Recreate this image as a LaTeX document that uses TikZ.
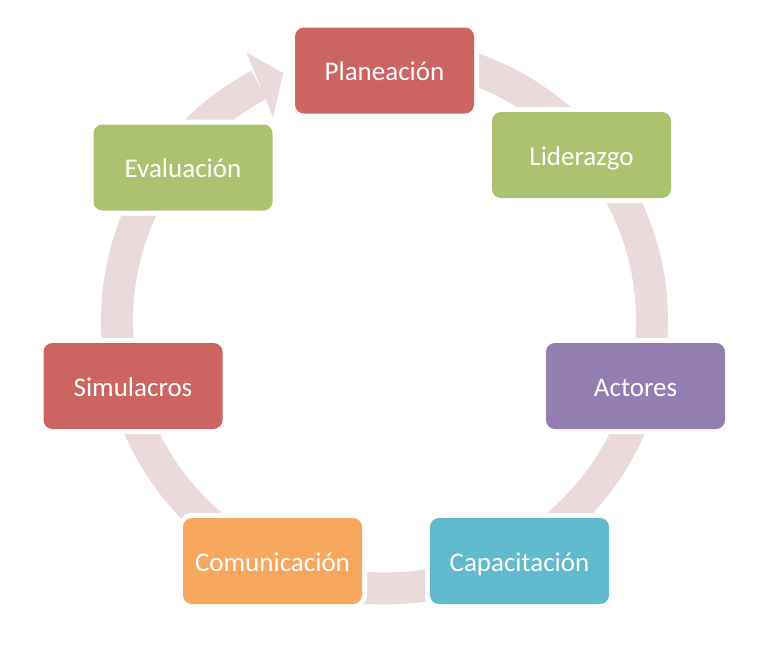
\documentclass[tikz,border=0pt]{standalone}
\usepackage{fontspec}
\setmainfont{Carlito}
\definecolor{ringc}{RGB}{234,218,219}
\definecolor{cred}{RGB}{204,101,97}
\definecolor{cgreen}{RGB}{172,194,112}
\definecolor{cpurple}{RGB}{147,125,177}
\definecolor{cteal}{RGB}{97,185,206}
\definecolor{corange}{RGB}{247,167,94}
\begin{document}
\begin{tikzpicture}[x=1pt,y=-1pt,
  box/.style={rounded corners=9pt, minimum width=179pt, minimum height=86pt,
    text=white, font=\fontsize{27}{31}\selectfont, inner sep=0pt,
    text height=20pt, text depth=0pt,
    preaction={draw=white, line width=10pt}}]
\useasboundingbox (0,0) rectangle (776,649);
\coordinate (c) at (384.5,321);
% ring with arrow
\draw[ringc, line width=32pt] ([shift={(85:267.5pt)}]c) arc[start angle=85, end angle=-242, radius=267.5pt];
\fill[ringc] ([shift={(117.2:302pt)}]c) -- ([shift={(112.2:268pt)}]c) -- ([shift={(118.7:232pt)}]c) -- cycle;
% boxes
\node[box, fill=cred] (plan) at (384.5,70.5) {Planeación};
\node[box, fill=cgreen] (lid) at (581.5,155) {Liderazgo};
\node[box, fill=cpurple] (act) at (635.5,386) {Actores};
\node[box, fill=cteal] (cap) at (519.5,561) {Capacitación};
\node[box, fill=corange] (com) at (272.5,561) {Comunicación};
\node[box, fill=cred] (sim) at (133,386) {Simulacros};
\node[box, fill=cgreen] (eva) at (183,167.5) {Evaluación};
\end{tikzpicture}
\end{document}
